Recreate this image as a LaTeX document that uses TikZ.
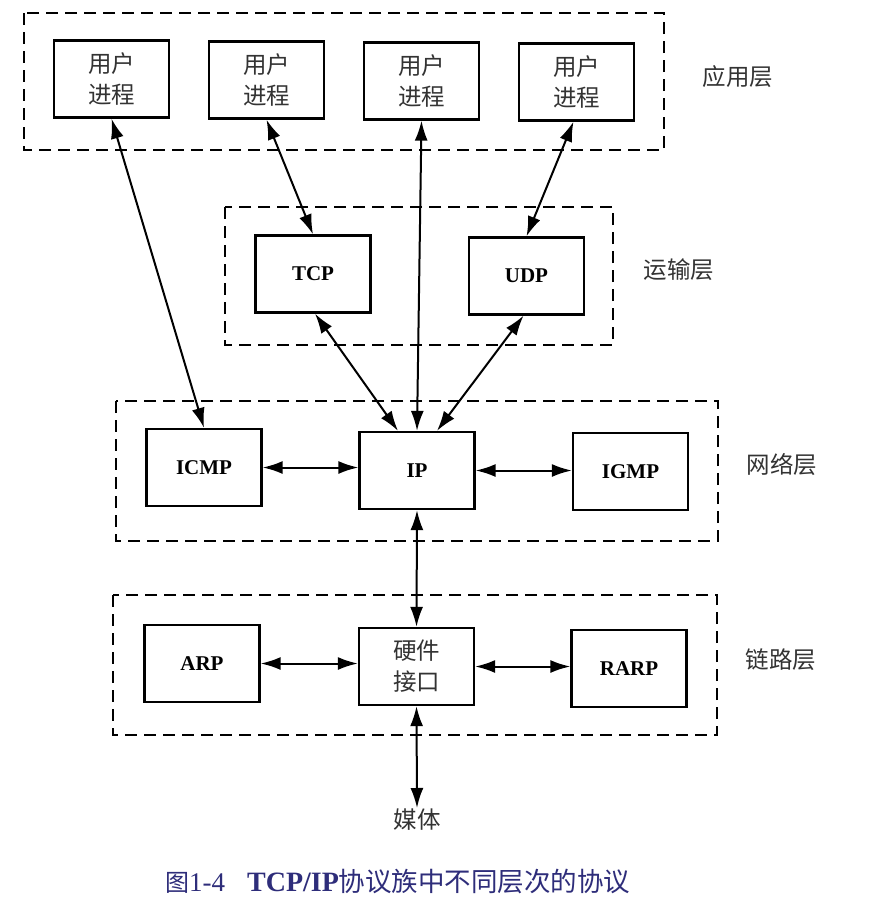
\documentclass[tikz,border=0pt]{standalone}
\usepackage{fontspec}
\setmainfont{Liberation Serif}
\newfontfamily\cjk{Noto Sans CJK SC}
\usetikzlibrary{arrows.meta,calc}
\definecolor{capcol}{RGB}{46,45,122}
\tikzset{
  box/.style={draw, line width=2.3pt, minimum width=115pt, minimum height=77pt, inner sep=0pt, align=center},
  cjkbox/.style={box, font=\cjk\fontsize{23.5}{31}\selectfont, text=black!80},
  latbox/.style={box, font=\bfseries\fontsize{21}{24}\selectfont},
  layerbox/.style={draw, line width=2pt, dash pattern=on 12pt off 7pt},
  layerlabel/.style={font=\cjk\fontsize{23.5}{26}\selectfont, text=black!80, inner sep=0pt},
  link/.style={line width=2pt, {Latex[length=20pt,width=13pt]}-{Latex[length=20pt,width=13pt]}}
}
\begin{document}
\begin{tikzpicture}[x=1pt, y=-1pt]
\useasboundingbox[fill=white] (0,0) rectangle (870,908);

% layer frames
\draw[layerbox] (24,13) rectangle (664,150);
\draw[layerbox] (225,207) rectangle (613,345);
\draw[layerbox] (116,401) rectangle (718,541);
\draw[layerbox] (113,595) rectangle (717,735);

% application layer
\node[cjkbox] (u1) at (111.5,79) {用户\\进程};
\node[cjkbox] (u2) at (266.5,80) {用户\\进程};
\node[cjkbox] (u3) at (421.5,81) {用户\\进程};
\node[cjkbox] (u4) at (576.5,82) {用户\\进程};

% transport layer
\node[latbox] (tcp) at (313,274) {TCP};
\node[latbox] (udp) at (526.5,276) {UDP};

% network layer
\node[latbox] (icmp) at (204,467.5) {ICMP};
\node[latbox] (ip) at (417,470.5) {IP};
\node[latbox] (igmp) at (630.5,471.5) {IGMP};

% link layer
\node[latbox] (arp) at (202,663.5) {ARP};
\node[cjkbox] (hw) at (416.5,666.5) {硬件\\接口};
\node[latbox] (rarp) at (629,668.5) {RARP};

% media
\node[font=\cjk\fontsize{23.5}{26}\selectfont, text=black!80, inner sep=1pt] (media) at (417,820) {媒体};

% layer labels
\node[layerlabel] (lapp) at (738,77) {应用层};
\node[layerlabel] (ltr) at (679,270) {运输层};
\node[layerlabel] (lnet) at (782,465) {网络层};
\node[layerlabel] (llink) at (781,660) {链路层};

% connectors
\draw[link] (u1.south) -- (icmp.north);
\draw[link] (u2.south) -- (tcp.north);
\draw[link] (u3.south) -- (ip.north);
\draw[link] ($(u4.south)+(-3,0)$) -- (udp.north);
\draw[link] ($(tcp.south)+(2,0)$) -- ($(ip.north)+(-19,0)$);
\draw[link] ($(udp.south)+(-3,0)$) -- ($(ip.north)+(20,0)$);
\draw[link] (icmp.east) -- (icmp.east -| ip.west);
\draw[link] (ip.east) -- (ip.east -| igmp.west);
\draw[link] (ip.south) -- (hw.north);
\draw[link] (arp.east) -- (arp.east -| hw.west);
\draw[link] (hw.east) -- (hw.east -| rarp.west);
\draw[link] (hw.south) -- (media.north);

% caption
\node[text=capcol, inner sep=0pt, anchor=west] (cap) at (165,881)
  {{\cjk\fontsize{24}{28}\selectfont 图}{\fontsize{27}{28}\selectfont 1-4}\hspace{22pt}{\bfseries\fontsize{28}{28}\selectfont TCP/IP}{\cjk\fontsize{26.5}{28}\selectfont 协议族中不同层次的协议}};
\end{tikzpicture}
\end{document}
